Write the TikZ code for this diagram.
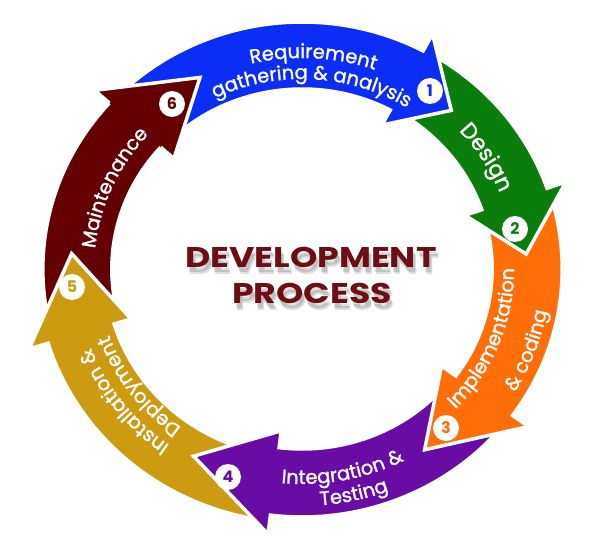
\documentclass[tikz,border=0pt]{standalone}
\usepackage{fontspec}
\usepackage{graphicx}
\setmainfont{Poppins}
\newfontfamily\lblfont{Poppins}[FakeBold=1.3]
\newfontfamily\ttlfont{Poppins}
\usetikzlibrary{decorations.text}
\definecolor{cblue}{RGB}{12,45,245}
\definecolor{cgreen}{RGB}{10,125,12}
\definecolor{corange}{RGB}{255,110,8}
\definecolor{cpurple}{RGB}{105,12,165}
\definecolor{cgold}{RGB}{205,155,18}
\definecolor{cmaroon}{RGB}{100,0,2}
\definecolor{ctitle}{RGB}{110,14,20}
\newcommand{\lblA}{\color{white}\lblfont\fontsize{19.5}{19.5}\selectfont}
\newcommand{\lblD}{\color{white}\lblfont\fontsize{22}{22}\selectfont}
% color, tail, base, tip, rin, rout
\newcommand{\sdlcarrow}[6]{%
  \path[arrowbody, fill=#1] (#2:#6) arc[start angle=#2, end angle=#3, radius=#6]
    -- (#3:{#6+19}) -- (#4:{(#5+#6)/2}) -- (#3:{#5-17}) -- (#3:#5)
    arc[start angle=#3, end angle=#2, radius=#5] -- cycle;}
\begin{document}
\begin{tikzpicture}[x=1pt,y=1pt,
  arrowbody/.style={draw=white, line width=3.5pt, line join=miter},
  numc/.style={circle, fill=white, minimum size=26pt, inner sep=0pt,
    font=\ttlfont\bfseries\fontsize{16}{16}\selectfont},
  titletext/.style={text=ctitle, font=\ttlfont\bfseries\fontsize{28.5}{28.5}\selectfont, inner sep=0pt},
  titleshadow/.style={text=black, opacity=0.13, font=\ttlfont\bfseries\fontsize{28.5}{28.5}\selectfont, inner sep=0pt}]
\useasboundingbox (0,-540) rectangle (590,0);
\begin{scope}[shift={(302,-269)}, xscale=1.045]
  % drawn in reverse order so each head lies on the next tail
  \sdlcarrow{cmaroon}{193}{138}{117}{182}{248}
  \sdlcarrow{cgold}{259}{197}{176}{188}{254}
  \sdlcarrow{cpurple}{320}{263}{241}{180}{248}
  \sdlcarrow{corange}{16}{-36}{-57}{182}{249}
  \sdlcarrow{cgreen}{59}{19}{4}{182}{248}
  \sdlcarrow{cblue}{135}{62}{48}{180}{247}
  % maroon head over the blue tail
  \fill[cmaroon] (138:248) -- (138:267) -- (117:215) -- (138:165) -- (138:182) -- cycle;
  \draw[white, line width=3.5pt, line join=miter] (138:248) -- (138:267) -- (117:215) -- (138:165) -- (138:182);
  % labels along the arcs
  \path[decorate, decoration={text along path, text align=center, text={|\lblA|Requirement}}]
    (122:211) arc[start angle=122, end angle=52, radius=211];
  \path[decorate, decoration={text along path, text align=center, text={|\lblA|gathering {\&} analysis}}]
    (132:190) arc[start angle=132, end angle=42, radius=190];
  \path[decorate, decoration={text along path, text align=center, text={|\lblD|Design}}]
    (62:204) arc[start angle=62, end angle=2, radius=204];
  \path[decorate, decoration={text along path, text align=center, text={|\lblA|Implementation}}]
    (-60:203) arc[start angle=-60, end angle=17, radius=203];
  \path[decorate, decoration={text along path, text align=center, text={|\lblA|{\&} coding}}]
    (-50:238) arc[start angle=-50, end angle=9, radius=238];
  \path[decorate, decoration={text along path, text align=center, text={|\lblA|Integration {\&}}}]
    (-114:215) arc[start angle=-114, end angle=-44, radius=215];
  \path[decorate, decoration={text along path, text align=center, text={|\lblA|Testing}}]
    (-107:237) arc[start angle=-107, end angle=-48, radius=237];
  \path[decorate, decoration={text along path, text align=center, text={|\lblA|Installation {\&}}}]
    (253:217) arc[start angle=253, end angle=182, radius=217];
  \path[decorate, decoration={text along path, text align=center, text={|\lblA|Deployment}}]
    (252:196) arc[start angle=252, end angle=181, radius=196];
  \path[decorate, decoration={text along path, text align=center, text={|\lblA|Maintenance}}]
    (191:199) arc[start angle=191, end angle=121, radius=199];
\end{scope}
% step numbers
\node[numc, text=cblue]   (n1) at (430,-91)  {1};
\node[numc, text=cgreen]  (n2) at (515,-229) {2};
\node[numc, text=corange] (n3) at (446,-428) {3};
\node[numc, text=cpurple] (n4) at (228,-477) {4};
\node[numc, text=cgold]   (n5) at (72,-287)  {5};
\node[numc, text=cmaroon] (n6) at (172,-104) {6};
% title with soft shadow
\foreach \dx/\dy [count=\k] in {2/-5, 3/-7} {
  \node[titleshadow] (ds\k) at (311+\dx,-257+\dy) {\scalebox{1.22}[1]{DEVELOPMENT}};
  \node[titleshadow] (ps\k) at (312+\dx,-293+\dy) {\scalebox{1.22}[1]{PROCESS}};
}
\node[titletext] (dev)  at (311,-257) {\scalebox{1.22}[1]{DEVELOPMENT}};
\node[titletext] (proc) at (312,-293) {\scalebox{1.22}[1]{PROCESS}};
\end{tikzpicture}
\end{document}
